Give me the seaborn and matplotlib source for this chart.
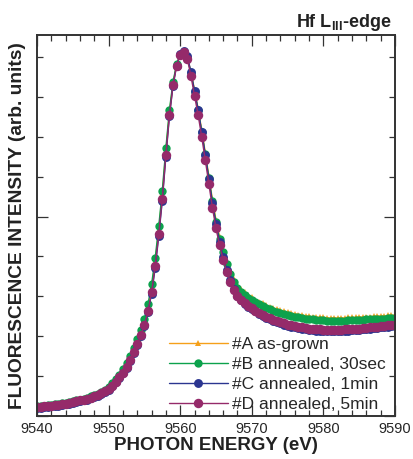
import numpy as np
import pandas as pd
import matplotlib
matplotlib.use("Agg")
import matplotlib.pyplot as plt
from matplotlib.ticker import MultipleLocator
import seaborn as sns

# ---------------- data ----------------
energy = [9540 + 0.5 * i for i in range(101)]  # eV grid

series_labels = ["#A as-grown", "#B annealed, 30sec", "#C annealed, 1min", "#D annealed, 5min"]

int_A = [
    0.023, 0.024, 0.025, 0.026, 0.027, 0.028, 0.029, 0.031, 0.032, 0.034,
    0.036, 0.038, 0.040, 0.042, 0.044, 0.047, 0.050, 0.054, 0.059, 0.064,
    0.070, 0.079, 0.089, 0.100, 0.113, 0.128, 0.145, 0.165, 0.186, 0.209,
    0.236, 0.271, 0.320, 0.385, 0.466, 0.556, 0.664, 0.762, 0.834, 0.880,
    0.906, 0.911, 0.899, 0.863, 0.818, 0.771, 0.718, 0.661, 0.602, 0.543,
    0.491, 0.449, 0.415, 0.387, 0.363, 0.344, 0.329, 0.318, 0.310, 0.304,
    0.298, 0.292, 0.287, 0.282, 0.278, 0.274, 0.271, 0.268, 0.265, 0.263,
    0.260, 0.258, 0.256, 0.254, 0.253, 0.251, 0.250, 0.249, 0.248, 0.247,
    0.247, 0.246, 0.246, 0.246, 0.246, 0.246, 0.246, 0.247, 0.247, 0.247,
    0.248, 0.248, 0.249, 0.249, 0.250, 0.250, 0.251, 0.251, 0.252, 0.252,
    0.253]

int_B = [
    0.024, 0.025, 0.026, 0.027, 0.028, 0.029, 0.030, 0.032, 0.033, 0.035,
    0.037, 0.039, 0.041, 0.043, 0.046, 0.049, 0.052, 0.056, 0.061, 0.066,
    0.073, 0.082, 0.092, 0.104, 0.117, 0.132, 0.150, 0.171, 0.193, 0.216,
    0.244, 0.280, 0.330, 0.395, 0.475, 0.565, 0.672, 0.768, 0.838, 0.882,
    0.906, 0.910, 0.898, 0.860, 0.813, 0.767, 0.713, 0.656, 0.597, 0.538,
    0.486, 0.444, 0.410, 0.381, 0.357, 0.337, 0.322, 0.311, 0.303, 0.297,
    0.291, 0.285, 0.280, 0.275, 0.271, 0.267, 0.264, 0.261, 0.258, 0.256,
    0.253, 0.251, 0.249, 0.247, 0.246, 0.244, 0.243, 0.242, 0.241, 0.240,
    0.240, 0.239, 0.239, 0.239, 0.239, 0.239, 0.239, 0.240, 0.240, 0.240,
    0.241, 0.241, 0.242, 0.242, 0.243, 0.243, 0.244, 0.244, 0.245, 0.245,
    0.246]

int_C = [
    0.020, 0.021, 0.022, 0.023, 0.024, 0.025, 0.026, 0.028, 0.029, 0.031,
    0.033, 0.035, 0.037, 0.039, 0.041, 0.044, 0.047, 0.051, 0.055, 0.060,
    0.066, 0.074, 0.084, 0.095, 0.107, 0.121, 0.138, 0.158, 0.178, 0.200,
    0.226, 0.260, 0.306, 0.370, 0.450, 0.540, 0.650, 0.752, 0.828, 0.878,
    0.907, 0.915, 0.902, 0.862, 0.815, 0.768, 0.713, 0.655, 0.595, 0.534,
    0.481, 0.437, 0.399, 0.367, 0.340, 0.318, 0.301, 0.290, 0.281, 0.274,
    0.268, 0.262, 0.256, 0.251, 0.246, 0.242, 0.238, 0.235, 0.232, 0.229,
    0.226, 0.224, 0.222, 0.220, 0.219, 0.217, 0.216, 0.215, 0.214, 0.214,
    0.213, 0.213, 0.213, 0.213, 0.213, 0.213, 0.214, 0.214, 0.215, 0.215,
    0.216, 0.217, 0.218, 0.219, 0.220, 0.221, 0.222, 0.223, 0.224, 0.225,
    0.226]

int_D = [
    0.022, 0.023, 0.024, 0.025, 0.026, 0.027, 0.028, 0.030, 0.031, 0.033,
    0.035, 0.037, 0.039, 0.041, 0.043, 0.046, 0.049, 0.053, 0.057, 0.062,
    0.068, 0.076, 0.086, 0.097, 0.109, 0.123, 0.140, 0.160, 0.180, 0.202,
    0.228, 0.262, 0.310, 0.375, 0.455, 0.545, 0.655, 0.755, 0.830, 0.878,
    0.905, 0.912, 0.895, 0.852, 0.803, 0.755, 0.700, 0.642, 0.582, 0.522,
    0.470, 0.428, 0.392, 0.362, 0.337, 0.316, 0.300, 0.290, 0.282, 0.276,
    0.270, 0.264, 0.258, 0.253, 0.249, 0.245, 0.241, 0.238, 0.235, 0.232,
    0.229, 0.227, 0.225, 0.223, 0.222, 0.220, 0.219, 0.218, 0.217, 0.217,
    0.216, 0.216, 0.216, 0.216, 0.216, 0.216, 0.217, 0.217, 0.218, 0.218,
    0.219, 0.220, 0.221, 0.222, 0.223, 0.224, 0.225, 0.226, 0.227, 0.228,
    0.229]

x_ticks = [9540, 9550, 9560, 9570, 9580, 9590]

# ---------------- style ----------------
sns.set_style("ticks")
plt.rcParams["font.family"] = ["Liberation Sans", "DejaVu Sans"]
plt.rcParams["mathtext.fontset"] = "custom"
plt.rcParams["mathtext.rm"] = "Liberation Sans"
plt.rcParams["mathtext.bf"] = "Liberation Sans:bold"

colors = ["#F5A01A", "#0CA24C", "#2B3590", "#952A6A"]
markers = ["^", "o", "o", "o"]
msizes = [5.0, 6.0, 6.4, 6.8]
all_int = [int_A, int_B, int_C, int_D]

frames = []
for lab, vals in zip(series_labels, all_int):
    frames.append(pd.DataFrame({"energy": energy, "intensity": vals, "sample": lab}))
df = pd.concat(frames, ignore_index=True)

fig = plt.figure(figsize=(4.13, 4.59), dpi=100)
ax = fig.add_axes([37 / 413, 1 - 416 / 459, (395 - 37) / 413, (416 - 35) / 459])

for lab, col, mk, ms in zip(series_labels, colors, markers, msizes):
    sub = df[df["sample"] == lab]
    sns.lineplot(data=sub, x="energy", y="intensity", ax=ax, color=col,
                 marker=mk, markersize=ms, markeredgewidth=0, markeredgecolor=col,
                 linewidth=1.0, label=lab, sort=False)

ax.set_xlim(9540, 9590)
ax.set_ylim(0.0, 0.955)
ax.set_xticks(x_ticks)
ax.set_xticklabels([str(t) for t in x_ticks], fontsize=10.5)
ax.xaxis.set_minor_locator(MultipleLocator(2))
ax.yaxis.set_major_locator(MultipleLocator(0.5))
ax.yaxis.set_minor_locator(MultipleLocator(0.1))
ax.set_yticklabels([])
ax.tick_params(which="both", direction="in", top=True, right=True,
               color="#333333", width=0.9)
ax.tick_params(which="major", length=8, pad=4)
ax.tick_params(which="minor", length=4)
for sp in ax.spines.values():
    sp.set_linewidth(1.4)
    sp.set_color("#333333")

ax.set_xlabel("PHOTON ENERGY (eV)", fontsize=13.5, fontweight="bold",
              color="#222222", labelpad=1)
ax.set_ylabel("FLUORESCENCE INTENSITY (arb. units)", fontsize=13.8,
              fontweight="bold", color="#222222", labelpad=4)

fig.text(392 / 413, 1 - 27 / 459, r"Hf L$_{\mathbf{III}}$-edge", ha="right",
         va="baseline", fontsize=13, fontweight="bold", color="#222222")

leg = ax.legend(loc="lower left", bbox_to_anchor=((168 - 37) / 358, 0.008),
                frameon=False, fontsize=12.5, handlelength=3.4, handletextpad=0.25,
                labelspacing=0.28, borderpad=0.05, borderaxespad=0.0)

fig.savefig("out.png", dpi=100)
